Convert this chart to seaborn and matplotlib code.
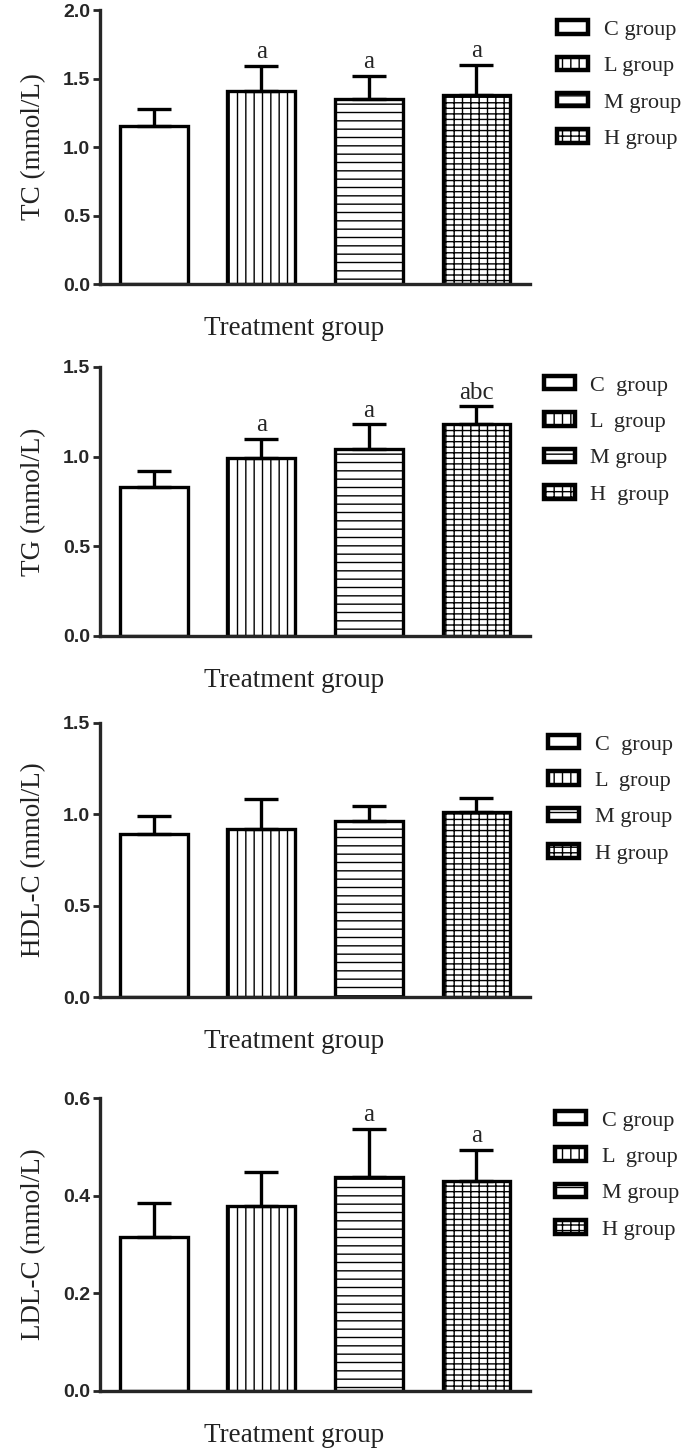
import matplotlib
matplotlib.use("Agg")
import matplotlib.pyplot as plt
import seaborn as sns

# Data
groups = ["C", "L", "M", "H"]

tc_mean = [1.15, 1.41, 1.35, 1.38]
tc_err = [0.13, 0.18, 0.17, 0.22]
tc_letters = ["", "a", "a", "a"]

tg_mean = [0.83, 0.99, 1.04, 1.18]
tg_err = [0.09, 0.11, 0.14, 0.10]
tg_letters = ["", "a", "a", "abc"]

hdl_mean = [0.89, 0.92, 0.965, 1.01]
hdl_err = [0.10, 0.165, 0.08, 0.08]
hdl_letters = ["", "", "", ""]

ldl_mean = [0.316, 0.378, 0.438, 0.431]
ldl_err = [0.069, 0.070, 0.099, 0.063]
ldl_letters = ["", "", "a", "a"]

legend_labels = [
    ["C group", "L group", "M group", "H group"],
    ["C  group", "L  group", "M group", "H  group"],
    ["C  group", "L  group", "M group", "H group"],
    ["C group", "L  group", "M group", "H group"],
]

sns.set_style("ticks")
plt.rcParams["hatch.linewidth"] = 1.0
serif = ["Liberation Serif", "DejaVu Serif"]
sans = ["Liberation Sans", "DejaVu Sans"]

hatches = ["", "||", "--", "++-"]

# (ylabel, means, errs, letters, ymax, yticks, axes rect, legend anchor)
panels = [
    ("TC (mmol/L)", tc_mean, tc_err, tc_letters, 2.0, [0, 0.5, 1.0, 1.5, 2.0],
     [0.146, 0.8041, 0.628, 0.189], (1.016, 1.036)),
    ("TG (mmol/L)", tg_mean, tg_err, tg_letters, 1.5, [0, 0.5, 1.0, 1.5],
     [0.146, 0.5614, 0.628, 0.1855], (0.985, 1.041)),
    ("HDL-C (mmol/L)", hdl_mean, hdl_err, hdl_letters, 1.5, [0, 0.5, 1.0, 1.5],
     [0.146, 0.3124, 0.628, 0.189], (0.995, 1.029)),
    ("LDL-C (mmol/L)", ldl_mean, ldl_err, ldl_letters, 0.6, [0, 0.2, 0.4, 0.6],
     [0.146, 0.0407, 0.628, 0.202], (1.012, 1.024)),
]

fig = plt.figure(figsize=(6.85, 14.5), dpi=100)

for i, (ylab, means, errs, letters, ymax, yticks, rect, anchor) in enumerate(panels):
    ax = fig.add_axes(rect)
    sns.barplot(x=groups, y=means, ax=ax, color="white", edgecolor="black",
                linewidth=2.4, width=0.63, saturation=1)
    for patch, h in zip(ax.patches, hatches):
        patch.set_hatch(h)
        patch.set_facecolor("white")

    ax.errorbar(range(len(groups)), means, yerr=[[0] * len(errs), errs],
                fmt="none", ecolor="black", elinewidth=2.4, capsize=12,
                capthick=2.4, zorder=5)

    for j, lab in enumerate(letters):
        if lab:
            ax.annotate(lab, (j, means[j] + errs[j]), xytext=(0, 2),
                        textcoords="offset points", ha="center", va="bottom",
                        fontsize=18, family=serif)

    ax.set_xlim(-0.5, 3.5)
    ax.set_ylim(0, ymax)
    ax.set_yticks(yticks)
    ax.set_yticklabels([f"{t:.1f}" for t in yticks], fontsize=14,
                       fontweight="bold", family=sans)
    ax.set_xticks([])
    sns.despine(ax=ax)
    for s in ["left", "bottom"]:
        ax.spines[s].set_linewidth(2.4)
    ax.tick_params(axis="y", direction="out", length=5, width=2, pad=2)

    ax.set_ylabel(ylab, fontsize=19.5, family=serif, color="#222222",
                  labelpad=12)
    ax.set_xlabel("Treatment group", fontsize=19.5, family=serif,
                  color="#222222", labelpad=23, x=0.45)

    leg = ax.legend(ax.patches[:4], legend_labels[i], loc="upper left",
                    bbox_to_anchor=anchor, frameon=False,
                    prop={"family": serif, "size": 16},
                    handlelength=1.4, handleheight=0.55,
                    handletextpad=0.7, labelspacing=0.76)
    for hnd in leg.legend_handles:
        hnd.set_linewidth(3.2)

fig.savefig("out.png", dpi=100)
